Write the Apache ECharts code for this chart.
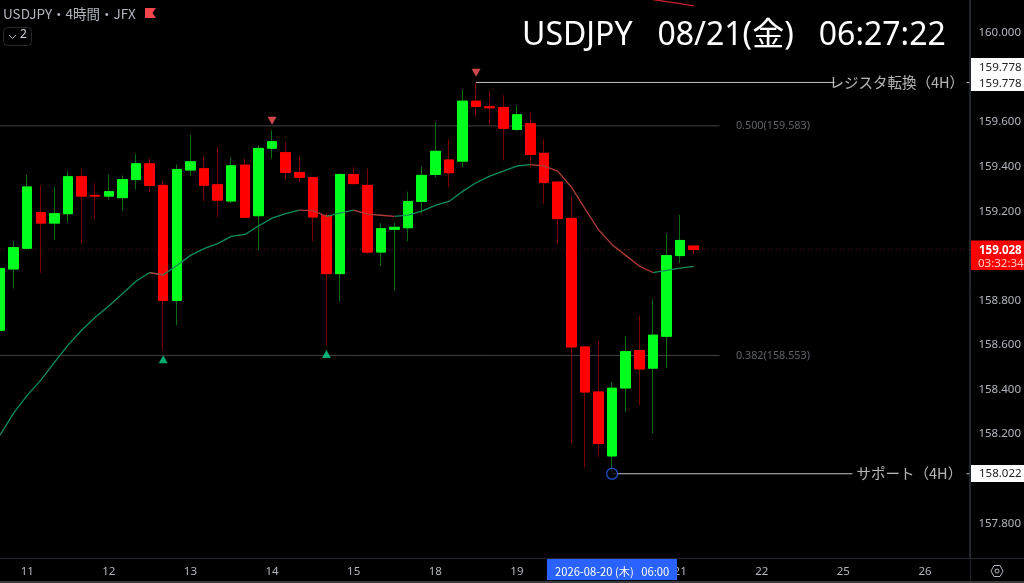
<!DOCTYPE html>
<html><head><meta charset="utf-8">
<style>html,body{margin:0;padding:0;background:#000}#c{width:1024px;height:583px}</style>
<script src="https://cdn.jsdelivr.net/npm/echarts@6/dist/echarts.min.js"></script>
</head><body><div id="c"></div>
<script>
const opens = [158.666,158.941,159.034,159.194,159.147,159.189,159.355,159.271,159.268,159.261,159.342,159.413,159.316,158.800,159.385,159.391,159.319,159.246,159.407,159.180,159.483,159.463,159.374,159.351,159.180,158.920,159.365,159.316,159.017,159.119,159.126,159.244,159.365,159.430,159.425,159.694,159.669,159.666,159.567,159.593,159.460,159.331,159.168,158.591,158.389,158.102,158.407,158.575,158.496,158.639,159.001,159.044];
const closes = [158.943,159.037,159.309,159.147,159.189,159.355,159.268,159.268,159.288,159.342,159.413,159.316,158.800,159.387,159.422,159.317,159.250,159.404,159.173,159.482,159.512,159.374,159.352,159.174,158.920,159.365,159.324,159.017,159.122,159.128,159.244,159.361,159.469,159.373,159.694,159.670,159.664,159.572,159.633,159.455,159.330,159.167,158.591,158.389,158.158,158.406,158.570,158.492,158.644,159.001,159.069,159.028];
const lows = [158.660,158.853,159.028,158.923,159.073,159.150,159.057,159.167,159.252,159.201,159.298,159.286,158.576,158.688,159.358,159.244,159.173,159.237,159.173,159.025,159.437,159.344,159.331,159.064,158.599,158.797,159.323,159.007,158.953,158.845,159.066,159.189,159.353,159.307,159.398,159.622,159.588,159.428,159.560,159.396,159.234,159.055,158.161,158.050,158.098,158.022,158.300,158.330,158.204,158.499,158.968,159.004];
const highs = [158.943,159.066,159.364,159.315,159.309,159.379,159.388,159.325,159.364,159.361,159.458,159.437,159.335,159.409,159.543,159.443,159.488,159.443,159.437,159.496,159.563,159.512,159.451,159.353,159.194,159.371,159.398,159.391,159.147,159.150,159.288,159.401,159.599,159.524,159.747,159.778,159.742,159.720,159.675,159.645,159.524,159.331,159.267,158.594,158.617,158.434,158.639,158.732,158.804,159.100,159.183,159.044];
const trendLine = [158.195,158.294,158.374,158.442,158.522,158.599,158.666,158.724,158.775,158.830,158.886,158.925,158.914,158.957,159.002,159.032,159.055,159.087,159.096,159.134,159.169,159.189,159.205,159.203,159.177,159.192,159.205,159.187,159.182,159.177,159.183,159.201,159.226,159.244,159.289,159.328,159.358,159.380,159.403,159.409,159.403,159.380,159.309,159.212,159.117,159.050,159.002,158.954,158.925,158.935,158.945,158.953];
const trendFallingSpans = [[11,12],[22,24],[26,29],[39,48]];
const upperBandIndex = [48,49,50,51];
const upperBand = [160.150,160.141,160.132,160.122];
const priceTicks = [157.8,158.0,158.2,158.4,158.6,158.8,159.0,159.2,159.4,159.6,159.8,160.0];
const dayTickIndex = [2,8,14,20,26,32,38,44,50,56,62,68];
const dayTickLabels = ['11','12','13','14','15','18','19','20','21','22','25','26'];
const peakIndex = [20,35];
const peakMarks = [159.606,159.821];
const troughIndex = [12,24];
const troughMarks = [158.536,158.560];
const lastPrice = 159.028;
const resistance = 159.778;
const support = 158.022;
const fib500 = 159.583;
const fib382 = 158.553;

const xMin = 0, xMax = 71.27, endX = 52.9;
const GREEN='#00ff1e', RED='#ff0000', WG='#0b6e12', WR='#7a0000';
const FONT='"Noto Sans","Noto Sans CJK JP",sans-serif';
const JP='"Noto Sans CJK JP",sans-serif';

const idx = opens.map((_,i)=>i);
const wicks = idx.map(i=>[i,opens[i],closes[i],lows[i],highs[i]]);
const bodies = idx.map(i=>[i,opens[i],closes[i],Math.min(opens[i],closes[i]),Math.max(opens[i],closes[i])]);
const isFalling = i=>trendFallingSpans.some(s=>i>=s[0]&&i<s[1]);
const trendSeg = falling => {
  const out=[];
  for(const i of idx){
    const use=(i<idx.length-1&&isFalling(i)===falling)||(i>0&&isFalling(i-1)===falling);
    out.push([i,use?trendLine[i]:null]);
  }
  return out;
};
const hline=(name,data,color,extra)=>Object.assign({type:'line',name,data,showSymbol:false,symbol:'none',silent:true,connectNulls:false,
  lineStyle:{color,width:1},z:1,animation:false},extra||{});
const textPoint=(pts,style)=>({type:'scatter',data:pts.map(p=>({value:[p[0],p[1]],label:{formatter:p[2]}})),symbolSize:0,silent:true,z:6,animation:false,
  label:Object.assign({show:true,position:'right',distance:0},style)});

const chart = echarts.init(document.getElementById('c'),null,{renderer:'canvas'});
chart.setOption({
  animation:false,
  backgroundColor:'#000',
  grid:{left:0,top:0,width:970,height:558,containLabel:false},
  xAxis:{type:'value',min:xMin,max:xMax,
    axisLine:{show:true,onZero:false,lineStyle:{color:'#22252e'}},axisTick:{show:false},splitLine:{show:false},
    axisLabel:{customValues:dayTickIndex,formatter:v=>dayTickLabels[dayTickIndex.indexOf(v)],color:'#b2b5be',fontSize:11.5,fontFamily:FONT,margin:8}},
  yAxis:{type:'value',position:'right',min:157.644,max:160.148,
    axisLine:{show:true,onZero:false,lineStyle:{color:'#22252e'}},axisTick:{show:false},splitLine:{show:false},
    axisLabel:{customValues:priceTicks,formatter:v=>v.toFixed(3),color:'#b2b5be',fontSize:11.5,fontFamily:FONT,margin:9,padding:[3,0,0,0]}},
  series:[
    hline('fib500',[[xMin,fib500],[endX,fib500]],'#424242'),
    hline('fib382',[[xMin,fib382],[endX,fib382]],'#424242'),
    hline('last',[[xMin,lastPrice],[xMax,lastPrice]],'#5a0c0c',{lineStyle:{color:'#5a0c0c',width:1,type:[1,3]}}),
    hline('resistance',[[35,resistance],[61.35,resistance],[61.35,null],[71.05,null],[71.05,resistance],[xMax,resistance]],'#c4c4c4'),
    hline('support',[[45,support],[62.67,support],[62.67,null],[71.05,null],[71.05,support],[xMax,support]],'#c4c4c4'),
    {type:'candlestick',name:'wick',data:wicks,barWidth:10,z:2,silent:true,animation:false,
      itemStyle:{color:WG,color0:WR,borderColor:WG,borderColor0:WR,borderWidth:1}},
    {type:'candlestick',name:'body',data:bodies,barWidth:10,z:3,silent:true,animation:false,
      itemStyle:{color:GREEN,color0:RED,borderColor:GREEN,borderColor0:RED,borderWidth:1}},
    hline('trendUp',trendSeg(false),'#0c8f5a',{z:4,lineStyle:{color:'#0c8f5a',width:1.3}}),
    hline('trendDown',trendSeg(true),'#b23a3a',{z:4,lineStyle:{color:'#b23a3a',width:1.3}}),
    hline('upperBand',upperBandIndex.map((x,i)=>[x,upperBand[i]]),'#c8202c',{z:4,lineStyle:{color:'#c8202c',width:1.3}}),
    {type:'scatter',data:peakIndex.map((x,i)=>[x,peakMarks[i]]),symbol:'triangle',symbolRotate:180,symbolSize:[9,8],itemStyle:{color:'#ff5a5e'},z:5,silent:true,animation:false},
    {type:'scatter',data:troughIndex.map((x,i)=>[x,troughMarks[i]]),symbol:'triangle',symbolSize:[9,8],itemStyle:{color:'#08d68c'},z:5,silent:true,animation:false},
    {type:'scatter',data:[[45,support]],symbol:'circle',symbolSize:11,itemStyle:{color:'#000',borderColor:'#2458d8',borderWidth:1.5},z:5,silent:true,animation:false},
    textPoint([[54.1,fib500,'0.500(159.583)'],[54.1,fib382,'0.382(158.553)']],{color:'#787b86',fontSize:10.8,fontFamily:FONT}),
    textPoint([[60.98,resistance,'レジスタ転換（4H）'],[62.97,support,'サポート（4H）']],{color:'#e2e2e2',fontSize:14.5,fontFamily:JP})
  ],
  graphic:[
    {type:'text',z:20,left:522,top:20,style:{text:'USDJPY   08/21(金)   06:27:22',fill:'#fff',font:'32px '+FONT}},
    {type:'text',z:20,left:3,top:7,style:{text:'USDJPY・4時間・JFX',fill:'#b2b5be',font:'13.5px '+JP}},
    {type:'polygon',z:20,shape:{points:[[145,8],[156,8],[152.5,13],[156,18],[145,18]]},style:{fill:'#f4444c'}},
    {type:'rect',z:20,shape:{x:3.5,y:27.5,width:28,height:18,r:4},style:{fill:'#000',stroke:'#2a2a2e',lineWidth:1}},
    {type:'polyline',z:21,shape:{points:[[9,35],[12.5,38.5],[16,35]]},style:{fill:'none',stroke:'#b2b5be',lineWidth:1}},
    {type:'text',z:21,left:20,top:29,style:{text:'2',fill:'#d1d4dc',font:'12px '+FONT}},

    {type:'rect',z:20,shape:{x:971,y:58,width:53,height:33},style:{fill:'#fff'}},
    {type:'text',z:21,left:979,top:62,style:{text:'159.778',fill:'#222',font:'11.5px '+FONT}},
    {type:'text',z:21,left:979,top:78,style:{text:'159.778',fill:'#222',font:'11.5px '+FONT}},
    {type:'rect',z:20,shape:{x:971,y:465,width:53,height:17},style:{fill:'#fff'}},
    {type:'text',z:21,left:979,top:468,style:{text:'158.022',fill:'#222',font:'11.5px '+FONT}},
    {type:'rect',z:20,shape:{x:971,y:240.5,width:53,height:29.5},style:{fill:'#ff0000'}},
    {type:'text',z:21,left:979,top:245,style:{text:'159.028',fill:'#fff',font:'bold 11.5px '+FONT}},
    {type:'text',z:21,left:978,top:257.5,style:{text:'03:32:34',fill:'#ffc8c8',font:'11.5px '+FONT}},

    {type:'rect',z:20,shape:{x:547,y:558,width:130,height:22},style:{fill:'#2962ff'}},
    {type:'text',z:21,left:555,top:566,style:{text:'2026-08-20 (木)   06:00',fill:'#fff',font:'11.2px '+JP}},

    {type:'polygon',z:20,shape:{points:[[991,571],[994,565.5],[1000,565.5],[1003,571],[1000,576.5],[994,576.5]]},style:{fill:'none',stroke:'#b2b5be',lineWidth:1}},
    {type:'circle',z:20,shape:{cx:997,cy:571,r:2},style:{fill:'none',stroke:'#b2b5be',lineWidth:1}},
    {type:'line',z:20,shape:{x1:970.5,y1:0,x2:970.5,y2:581},style:{stroke:'#22252e',lineWidth:1}},
    {type:'line',z:20,shape:{x1:0,y1:558.5,x2:1024,y2:558.5},style:{stroke:'#22252e',lineWidth:1}},
    {type:'rect',z:20,shape:{x:0,y:581,width:1024,height:2},style:{fill:'#3a3a3a'}}
  ]
});
</script></body></html>
